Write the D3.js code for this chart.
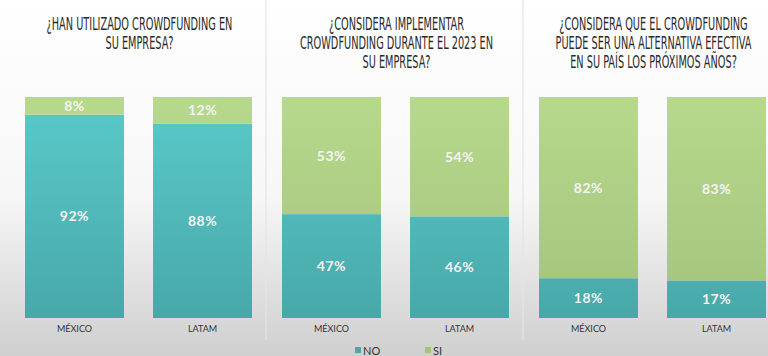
<!DOCTYPE html>
<html><head><meta charset="utf-8">
<script src="https://cdn.jsdelivr.net/npm/d3@7"></script>
<style>body{margin:0;overflow:hidden;background:#fff}svg{display:block}</style>
</head><body>
<svg id="c" width="768" height="356"></svg>
<script>
const questions = [
  ["¿HAN UTILIZADO CROWDFUNDING EN", "SU EMPRESA?"],
  ["¿CONSIDERA IMPLEMENTAR", "CROWDFUNDING DURANTE EL 2023 EN", "SU EMPRESA?"],
  ["¿CONSIDERA QUE EL CROWDFUNDING", "PUEDE SER UNA ALTERNATIVA EFECTIVA", "EN SU PAÍS LOS PRÓXIMOS AÑOS?"]
];
const categories = ["MÉXICO", "LATAM"];
const noValues = [[92, 88], [47, 46], [18, 17]];
const siValues = [[8, 12], [53, 54], [82, 83]];
const seriesNames = ["NO", "SI"];

const svg = d3.select("#c");
const defs = svg.append("defs");
const bg = defs.append("linearGradient").attr("id","bg").attr("x1",0).attr("y1",0).attr("x2",0).attr("y2",1);
bg.append("stop").attr("offset","0").attr("stop-color","#ffffff");
bg.append("stop").attr("offset","0.55").attr("stop-color","#f7f7f7");
bg.append("stop").attr("offset","1").attr("stop-color","#cfcfcf");
const gT = defs.append("linearGradient").attr("id","gNO").attr("gradientUnits","userSpaceOnUse").attr("x1",0).attr("y1",97).attr("x2",0).attr("y2",318);
gT.append("stop").attr("offset","0").attr("stop-color","#5acaca");
gT.append("stop").attr("offset","1").attr("stop-color","#48a8a9");
const gG = defs.append("linearGradient").attr("id","gSI").attr("gradientUnits","userSpaceOnUse").attr("x1",0).attr("y1",97).attr("x2",0).attr("y2",318);
gG.append("stop").attr("offset","0").attr("stop-color","#b6d98c");
gG.append("stop").attr("offset","1").attr("stop-color","#a3c37c");

svg.append("rect").attr("width",768).attr("height",356).attr("fill","url(#bg)");

const panel = d3.scaleBand().domain(d3.range(questions.length)).range([0, 771]);
const x = d3.scaleBand().domain(categories).range([25, 252]).paddingInner(0.227).paddingOuter(0);
const y = d3.scaleLinear().domain([0, 100]).range([318, 97]);
const color = d3.scaleOrdinal().domain(seriesNames).range(["url(#gNO)", "url(#gSI)"]);

// separators
[1, 2].forEach(i => {
  svg.append("line").attr("x1", panel(i) + 9).attr("x2", panel(i) + 9)
    .attr("y1", 0).attr("y2", 340).attr("stroke", "#e4e4e4").attr("stroke-width", 1.2);
});

// measure title font to get a condensed horizontal scale
const probe = svg.append("text").attr("font-family","'DejaVu Sans Condensed','DejaVu Sans',sans-serif")
  .attr("font-size",17).text(questions[0][0]);
const sx = 186 / probe.node().getComputedTextLength();
probe.remove();

questions.forEach((q, qi) => {
  const g = svg.append("g").attr("transform", `translate(${panel(qi)},0)`);
  const cx = (x.range()[0] + x.range()[1]) / 2 + 1;
  g.append("g").attr("transform", `translate(${cx},0) scale(${sx},1)`)
    .append("text").attr("text-anchor","middle")
    .attr("font-family","'DejaVu Sans Condensed','DejaVu Sans',sans-serif")
    .attr("font-size",17).attr("fill","#2a2a2a")
    .selectAll("tspan").data(q).join("tspan")
    .attr("x", 0).attr("y", (d, i) => 30 + i * 19).text(d => d);

  categories.forEach((c, ci) => {
    const stack = [
      {key: "NO", v0: 0, v1: noValues[qi][ci]},
      {key: "SI", v0: noValues[qi][ci], v1: noValues[qi][ci] + siValues[qi][ci]}
    ];
    g.selectAll(null).data(stack).join("rect")
      .attr("x", x(c)).attr("width", x.bandwidth())
      .attr("y", d => y(d.v1)).attr("height", d => y(d.v0) - y(d.v1))
      .attr("fill", d => color(d.key));
    g.selectAll(null).data(stack).join("text")
      .attr("x", x(c) + x.bandwidth() / 2)
      .attr("y", d => (y(d.v0) + y(d.v1)) / 2 + 5)
      .attr("text-anchor","middle").attr("font-family","Lato, 'Open Sans', sans-serif")
      .attr("font-weight",700).attr("font-size",14).attr("fill","#f4f4f4")
      .attr("letter-spacing", 0.5)
      .text(d => (d.v1 - d.v0) + "%");
    g.append("text").attr("x", x(c) + x.bandwidth() / 2).attr("y", 332)
      .attr("text-anchor","middle").attr("font-family","Lato, 'Open Sans', sans-serif")
      .attr("font-size",9).attr("fill","#333").text(c);
  });
});

// legend
const lg = svg.append("g");
const lx = d3.scaleOrdinal().domain(seriesNames).range([355, 425]);
seriesNames.forEach(s => {
  lg.append("rect").attr("x", lx(s)).attr("y", 347).attr("width", 6).attr("height", 6)
    .attr("fill", s === "NO" ? "#4aa8a9" : "#a3c37c");
  lg.append("text").attr("x", lx(s) + 8).attr("y", 355).attr("font-family","Lato, 'Open Sans', sans-serif")
    .attr("font-size",11).attr("fill","#333").text(s);
});
</script>
</body></html>
